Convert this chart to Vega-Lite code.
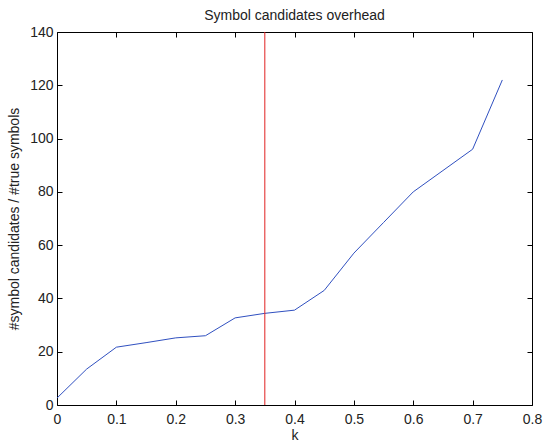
{
  "$schema": "https://vega.github.io/schema/vega-lite/v6.json",
  "width": 475,
  "height": 373,
  "autosize": {"type": "none"},
  "padding": {"left": 57, "top": 32, "right": 12, "bottom": 37},
  "background": "white",
  "title": {"text": "Symbol candidates overhead", "fontSize": 14, "fontWeight": "normal", "font": "Liberation Sans", "color": "#222222", "offset": 2},
  "config": {
    "view": {"stroke": "#000000", "strokeWidth": 1},
    "axis": {"grid": false, "domain": false, "labelFont": "Liberation Sans", "titleFont": "Liberation Sans", "labelFontSize": 14, "titleFontSize": 14, "titleFontWeight": "normal", "labelColor": "#222222", "titleColor": "#222222", "tickColor": "#000000", "tickSize": -5, "labelFlush": false}
  },
  "data": {"values": [
    {"k": 0, "ratio": 2.6},
    {"k": 0.05, "ratio": 13.5},
    {"k": 0.1, "ratio": 21.7},
    {"k": 0.15, "ratio": 23.4},
    {"k": 0.2, "ratio": 25.2},
    {"k": 0.25, "ratio": 26},
    {"k": 0.3, "ratio": 32.7},
    {"k": 0.35, "ratio": 34.4},
    {"k": 0.4, "ratio": 35.6},
    {"k": 0.45, "ratio": 43},
    {"k": 0.5, "ratio": 57},
    {"k": 0.55, "ratio": 68.5},
    {"k": 0.6, "ratio": 80},
    {"k": 0.65, "ratio": 88},
    {"k": 0.7, "ratio": 96},
    {"k": 0.75, "ratio": 122}
  ]},
  "layer": [
    {
      "mark": {"type": "line", "color": "#3050c0", "strokeWidth": 1, "clip": true},
      "encoding": {
        "x": {"field": "k", "type": "quantitative", "scale": {"domain": [0, 0.8], "nice": false, "zero": false},
              "axis": {"title": "k", "values": [0, 0.1, 0.2, 0.3, 0.4, 0.5, 0.6, 0.7, 0.8], "format": ".1~f", "titlePadding": 2, "labelPadding": 12}},
        "y": {"field": "ratio", "type": "quantitative", "scale": {"domain": [0, 140], "nice": false},
              "axis": {"title": "#symbol candidates / #true symbols", "values": [0, 20, 40, 60, 80, 100, 120, 140], "titlePadding": 8, "labelPadding": 9}}
      }
    },
    {
      "data": {"values": [{"kline": 0.35, "lo": 0, "hi": 140}]},
      "mark": {"type": "rule", "color": "#e02020", "strokeWidth": 1},
      "encoding": {
        "x": {"field": "kline", "type": "quantitative", "scale": {"domain": [0, 0.8], "nice": false, "zero": false},
              "axis": {"orient": "top", "title": null, "labels": false, "values": [0, 0.1, 0.2, 0.3, 0.4, 0.5, 0.6, 0.7, 0.8]}},
        "y": {"field": "lo", "type": "quantitative", "scale": {"domain": [0, 140], "nice": false},
              "axis": {"orient": "right", "title": null, "labels": false, "values": [0, 20, 40, 60, 80, 100, 120, 140]}},
        "y2": {"field": "hi"}
      }
    }
  ],
  "resolve": {"scale": {"x": "independent", "y": "independent"}, "axis": {"x": "independent", "y": "independent"}}
}
